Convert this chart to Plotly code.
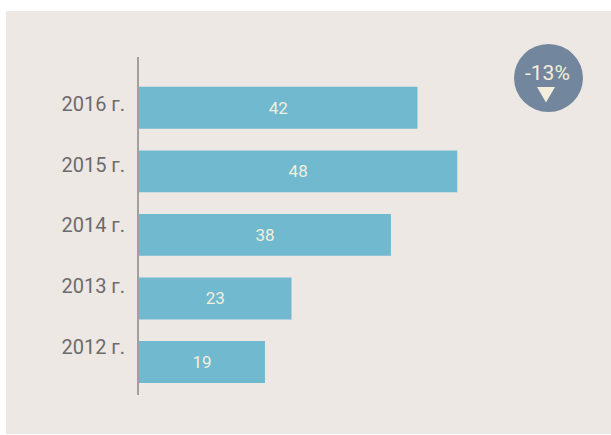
import plotly.graph_objects as go

years = ["2012 г.", "2013 г.", "2014 г.", "2015 г.", "2016 г."]
values = [19, 23, 38, 48, 42]
badge_text = "-13%"

W, H = 611, 435
L, R, T, B = 139, 8, 57, 40
pw, ph = W - L - R, H - T - B

def px(x):
    return (x - L) / pw

def py(y):
    return (H - B - y) / ph

fig = go.Figure()
fig.add_trace(go.Bar(
    y=years, x=values, orientation="h",
    marker=dict(color="#70b9cf", line=dict(width=0)),
    width=0.66,
    text=[str(v) for v in values],
    textposition="inside", insidetextanchor="middle",
    textfont=dict(family="Roboto", size=17, color="#f3efdc"),
    hoverinfo="skip",
))
# invisible companion trace carrying the category labels (label axis)
fig.add_trace(go.Scatter(
    y=years, x=values, yaxis="y2", mode="markers",
    marker=dict(opacity=0, size=1), hoverinfo="skip",
))

shapes = [
    dict(type="rect", xref="paper", yref="paper", x0=px(6), x1=px(611), y0=py(11), y1=py(434),
         fillcolor="#ede8e4", line=dict(width=0), layer="below"),
    dict(type="circle", xref="paper", yref="paper", xsizemode="pixel", ysizemode="pixel",
         xanchor=px(548.5), yanchor=py(78), x0=-34.5, x1=34.5, y0=-34, y1=34,
         fillcolor="#72879d", line=dict(width=0)),
    dict(type="path", xref="paper", yref="paper", xsizemode="pixel", ysizemode="pixel",
         xanchor=px(546), yanchor=py(94.5), path="M -9 7.5 L 9 7.5 L 0 -8 Z",
         fillcolor="#f3efdc", line=dict(width=0)),
]

fig.update_layout(
    width=W, height=H,
    margin=dict(l=L, r=R, t=T, b=B),
    paper_bgcolor="white", plot_bgcolor="rgba(0,0,0,0)",
    showlegend=False,
    shapes=shapes,
    annotations=[dict(xref="paper", yref="paper", x=px(547), y=py(73), text=badge_text,
                      showarrow=False, font=dict(family="Roboto", size=21, color="#f3efdc"),
                      xanchor="center", yanchor="middle")],
    xaxis=dict(range=[0, pw / 6.63], visible=False, fixedrange=True),
    yaxis=dict(type="category", categoryarray=years, range=[-0.52, 4.8], showline=True,
               linecolor="#a39f9e", linewidth=2, showgrid=False, zeroline=False,
               ticks="", showticklabels=False, fixedrange=True),
    yaxis2=dict(type="category", categoryarray=years, overlaying="y", side="left",
                range=[-0.79, 4.77], showline=False, showgrid=False, zeroline=False,
                ticks="", ticklabelstandoff=13,
                tickfont=dict(family="Roboto", size=20, color="#6d6b6b"), fixedrange=True),
)

fig.write_html("out.html", config={"displayModeBar": False},
               post_script="document.body.style.margin='0px';document.body.style.overflow='hidden';")
